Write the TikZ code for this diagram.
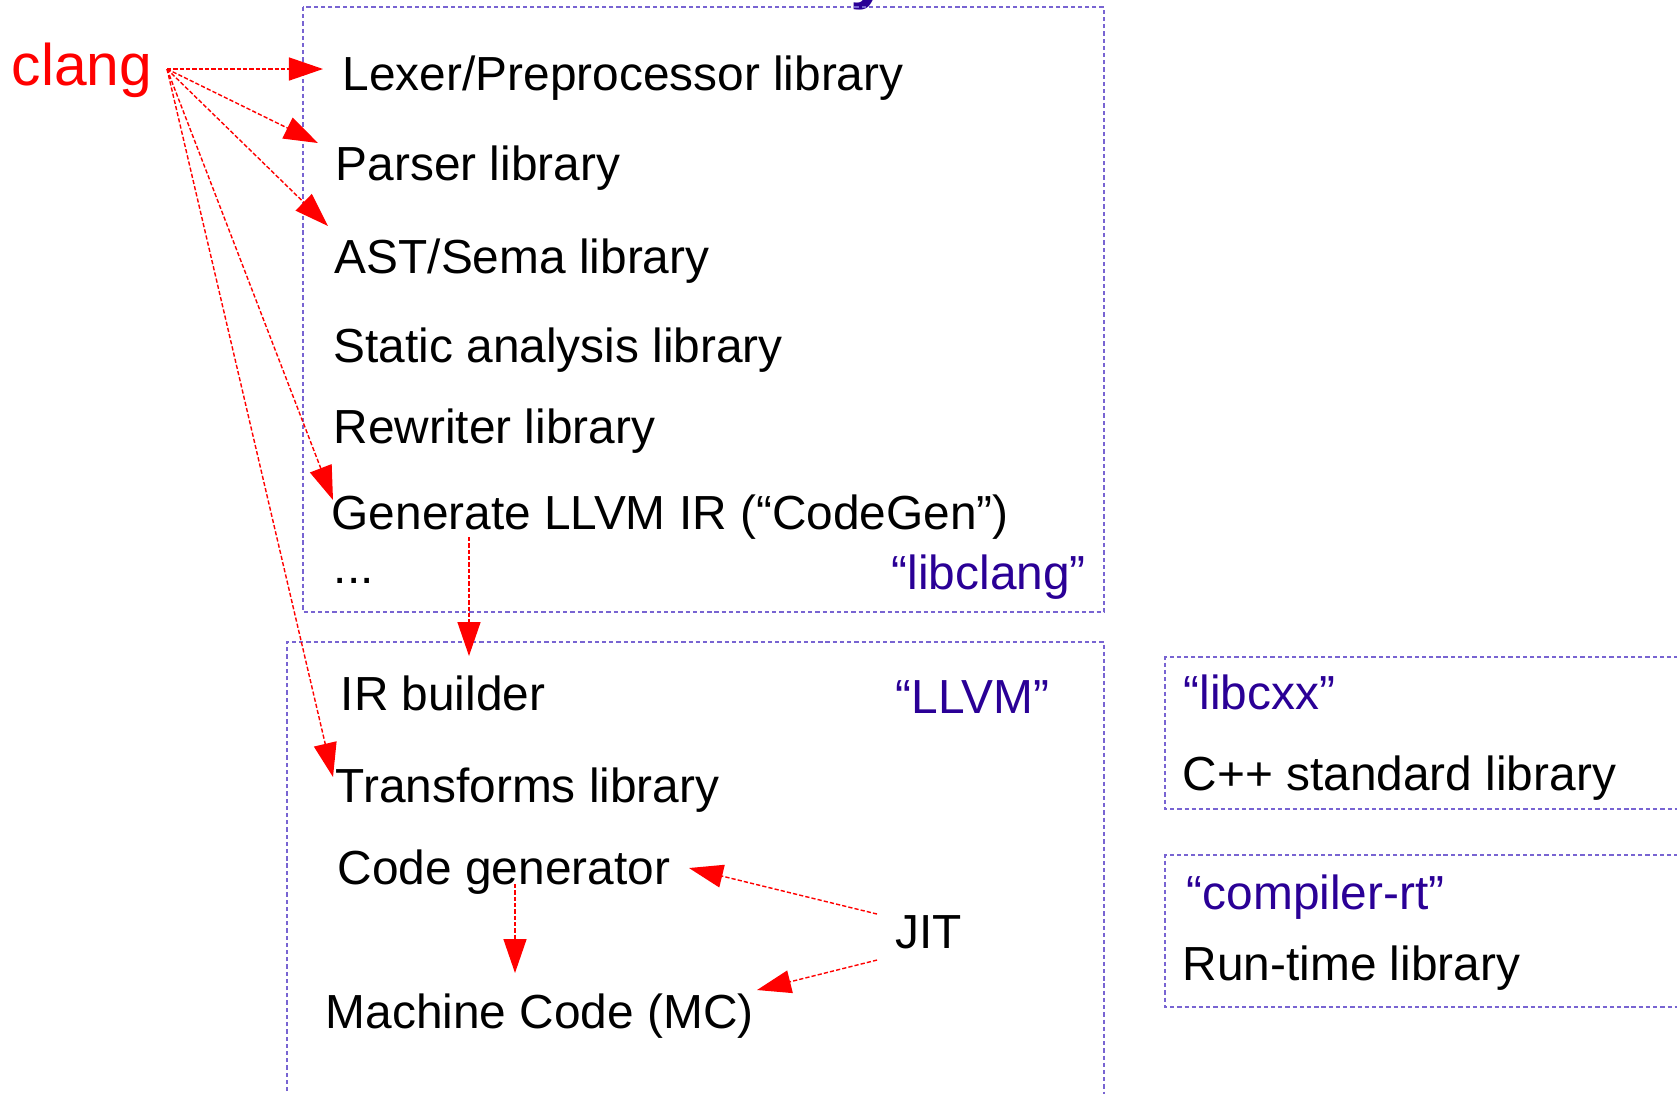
\documentclass[tikz,border=0pt]{standalone}
\usepackage{fontspec}
\setmainfont{Liberation Sans}
\usetikzlibrary{arrows.meta}

\definecolor{libline}{RGB}{120,100,210}
\definecolor{libblue}{RGB}{42,0,150}

\tikzset{
  item/.style={anchor=base west, inner sep=0pt, font=\fontsize{13.6pt}{16pt}\selectfont},
  tag/.style={item, text=libblue},
  libbox/.style={libline, line width=0.45pt, dash pattern=on 1.2pt off 0.85pt},
  link/.style={red, line width=0.4pt, dash pattern=on 1.2pt off 0.6pt,
    -{Triangle[length=0.34cm,width=0.23cm]}},
}

\begin{document}
\begin{tikzpicture}[x=0.01cm, y=-0.01cm]
    \useasboundingbox (0,0) rectangle (1677,1093);
    \clip (0,0) rectangle (1677,1093);

    % Title cut off at the top
    \node[anchor=base west, inner sep=0pt, text=libblue,
      font=\bfseries\fontsize{20pt}{24pt}\selectfont] (title) at (850,-5) {y};

    % Library boxes
    \draw[libbox] (303,7) rectangle (1104,612);
    \draw[libbox] (287,1120) -- (287,642) -- (1104,642) -- (1104,1120);
    \draw[libbox] (1700,657) -- (1165,657) -- (1165,809) -- (1700,809);
    \draw[libbox] (1700,855) -- (1165,855) -- (1165,1007) -- (1700,1007);

    % Driver
    \node[item, text=red, font=\fontsize{16.7pt}{20pt}\selectfont] (clang) at (11,85) {clang};

    % libclang
    \node[item] (lexer) at (342,90) {Lexer/Preprocessor library};
    \node[item] (parser) at (335,180) {Parser library};
    \node[item] (ast) at (334,273) {AST/Sema library};
    \node[item] (static) at (333,362) {Static analysis library};
    \node[item] (rewriter) at (333,443) {Rewriter library};
    \node[item] (codegen) at (331,529) {Generate LLVM IR (“CodeGen”)};
    \node[item] (more) at (333,583) {...};
    \node[tag] (libclang) at (891,589) {“libclang”};

    % LLVM
    \node[item] (irbuilder) at (340,710) {IR builder};
    \node[tag] (llvm) at (895,713) {“LLVM”};
    \node[item] (transforms) at (335,802) {Transforms library};
    \node[item] (cgen) at (337,884) {Code generator};
    \node[item] (jit) at (895,948) {JIT};
    \node[item] (mc) at (325,1028) {Machine Code (MC)};

    % Runtime libraries
    \node[tag] (libcxx) at (1183,709) {“libcxx”};
    \node[item] (cxxlib) at (1182,790) {C++ standard library};
    \node[tag] (compilerrt) at (1186,909) {“compiler-rt”};
    \node[item] (rtlib) at (1182,980) {Run-time library};

    % Connector ends
    \coordinate (clangout) at (167,69);
    \coordinate (tolexer) at (323,69);
    \coordinate (toparser) at (318,143);
    \coordinate (toast) at (328,226);
    \coordinate (tocodegen) at (333,500);
    \coordinate (totransforms) at (333,777);
    \coordinate (codegenout) at (469,537);
    \coordinate (toirbuilder) at (469,656);
    \coordinate (cgenout) at (515,884);
    \coordinate (tomc) at (515,973);
    \coordinate (jitup) at (877,914);
    \coordinate (jitdown) at (877,960);
    \coordinate (tocgen) at (689,868);
    \coordinate (tomcjit) at (757,990);

    % clang uses
    \draw[link] (clangout) -- (tolexer);
    \draw[link] (clangout) -- (toparser);
    \draw[link] (clangout) -- (toast);
    \draw[link] (clangout) -- (tocodegen);
    \draw[link] (clangout) -- (totransforms);

    % Flow inside LLVM
    \draw[link] (codegenout) -- (toirbuilder);
    \draw[link] (cgenout) -- (tomc);
    \draw[link] (jitup) -- (tocgen);
    \draw[link] (jitdown) -- (tomcjit);
\end{tikzpicture}
\end{document}
